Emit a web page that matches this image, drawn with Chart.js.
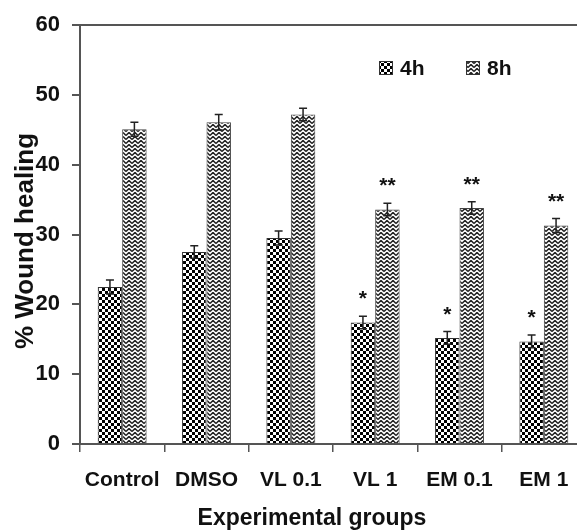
<!DOCTYPE html>
<html><head><meta charset="utf-8">
<script src="https://cdn.jsdelivr.net/npm/chart.js@4.4.1/dist/chart.umd.min.js"></script>
<style>html,body{margin:0;padding:0;overflow:hidden;background:#fff}#wrap{width:577px;height:531px;overflow:hidden;position:relative}canvas{display:block}</style>
</head><body><div id="wrap"><canvas id="c" width="586" height="531"></canvas></div>
<script>
const categories = ['Control', 'DMSO', 'VL 0.1', 'VL 1', 'EM 0.1', 'EM 1'];
const seriesNames = ['4h', '8h'];
const h4 = [22.5, 27.5, 29.5, 17.4, 15.2, 14.7];
const h4Err = [1.0, 0.9, 1.0, 0.9, 0.9, 0.9];
const h8 = [45.1, 46.1, 47.2, 33.6, 33.8, 31.3];
const h8Err = [1.0, 1.1, 0.9, 0.9, 0.9, 1.0];
const h4Sig = ['', '', '', '*', '*', '*'];
const h8Sig = ['', '', '', '**', '**', '**'];
const yTicks = [0, 10, 20, 30, 40, 50, 60];
const xTitle = 'Experimental groups';
const yTitle = '% Wound healing';

const FONT = "'Liberation Sans', Arial, sans-serif";

function checkerPattern() {
  const c = document.createElement('canvas'); c.width = 6; c.height = 6;
  const g = c.getContext('2d');
  g.fillStyle = '#fff'; g.fillRect(0, 0, 6, 6);
  g.fillStyle = '#000'; g.fillRect(0, 0, 3, 3); g.fillRect(3, 3, 3, 3);
  return g.createPattern(c, 'repeat');
}
function zigPattern() {
  const c = document.createElement('canvas'); c.width = 6; c.height = 4;
  const g = c.getContext('2d');
  g.fillStyle = '#fff'; g.fillRect(0, 0, 6, 4);
  g.strokeStyle = '#222'; g.lineWidth = 1.5;
  g.beginPath(); g.moveTo(0, 3.5); g.lineTo(3, 0.5); g.lineTo(6, 3.5); g.stroke();
  g.beginPath(); g.moveTo(-3, 0.5); g.lineTo(0, 3.5); g.stroke();
  g.beginPath(); g.moveTo(6, 3.5); g.lineTo(9, 0.5); g.stroke();
  return g.createPattern(c, 'repeat');
}
const pat4 = checkerPattern();
const pat8 = zigPattern();

const errs = [h4Err, h8Err];
const sigs = [h4Sig, h8Sig];

const errPlugin = {
  id: 'errbars',
  afterDatasetsDraw(chart) {
    const ctx = chart.ctx, ys = chart.scales.y;
    ctx.save();
    chart.data.datasets.forEach((ds, i) => {
      const meta = chart.getDatasetMeta(i);
      meta.data.forEach((el, j) => {
        const v = ds.data[j], e = errs[i][j];
        const yt = ys.getPixelForValue(v + e), yb = ys.getPixelForValue(v - e);
        const x = el.x;
        ctx.strokeStyle = '#222'; ctx.lineWidth = 1.5;
        ctx.beginPath();
        ctx.moveTo(x, yb); ctx.lineTo(x, yt);
        ctx.moveTo(x - 4, yt); ctx.lineTo(x + 4, yt);
        ctx.moveTo(x - 4, yb); ctx.lineTo(x + 4, yb);
        ctx.stroke();
        const s = sigs[i][j];
        if (s) {
          ctx.fillStyle = '#111';
          ctx.font = 'bold 21px ' + FONT;
          ctx.textAlign = 'center'; ctx.textBaseline = 'alphabetic';
          ctx.fillText(s, x, yt - 11);
        }
      });
    });
    ctx.restore();
  }
};

const legendPlugin = {
  id: 'customLegend',
  afterDraw(chart) {
    const ctx = chart.ctx;
    const items = [{x: 379, pat: pat4, text: seriesNames[0]}, {x: 466, pat: pat8, text: seriesNames[1]}];
    ctx.save();
    items.forEach(it => {
      ctx.fillStyle = it.pat; ctx.fillRect(it.x, 61, 14, 14);
      ctx.strokeStyle = '#333'; ctx.lineWidth = 1; ctx.strokeRect(it.x + 0.5, 61.5, 13, 13);
      ctx.fillStyle = '#111'; ctx.font = 'bold 21px ' + FONT;
      ctx.textAlign = 'left'; ctx.textBaseline = 'middle';
      ctx.fillText(it.text, it.x + 21, 69);
    });
    ctx.restore();
  }
};

const titlePlugin = {
  id: 'axisTitles',
  afterDraw(chart) {
    const ctx = chart.ctx;
    ctx.save();
    ctx.fillStyle = '#111';
    ctx.font = 'bold 23px ' + FONT;
    ctx.textAlign = 'center'; ctx.textBaseline = 'middle';
    ctx.fillText(xTitle, 312, 519);
    ctx.translate(26, 241); ctx.rotate(-Math.PI / 2);
    ctx.font = 'bold 26px ' + FONT;
    ctx.fillText(yTitle, 0, 0);
    ctx.restore();
  }
};

new Chart(document.getElementById('c'), {
  type: 'bar',
  data: {
    labels: categories,
    datasets: [
      {label: seriesNames[0], data: h4, backgroundColor: pat4, borderColor: '#333', borderWidth: 1, categoryPercentage: 0.58, barPercentage: 1},
      {label: seriesNames[1], data: h8, backgroundColor: pat8, borderColor: '#444', borderWidth: 1, categoryPercentage: 0.58, barPercentage: 1}
    ]
  },
  options: {
    responsive: false, animation: false, devicePixelRatio: 1,
    layout: {padding: {top: 24, right: 0, left: 0, bottom: 0}},
    plugins: {legend: {display: false}, tooltip: {enabled: false}},
    scales: {
      x: {
        grid: {offset: true, drawOnChartArea: false, tickLength: 8, color: '#555', lineWidth: 1.5},
        border: {color: '#555', width: 2},
        ticks: {font: {family: FONT, size: 21, weight: 'bold'}, color: '#111', padding: 16, maxRotation: 0, autoSkip: false},
        afterFit(s) { s.height = 87; }
      },
      y: {
        min: 0, max: 60,
        afterBuildTicks(s) { s.ticks = yTicks.map(v => ({value: v})); },
        ticks: {font: {family: FONT, size: 22, weight: 'bold'}, color: '#111', padding: 12},
        grid: {color: c => (c.tick && c.tick.value === 60) ? '#555' : 'rgba(0,0,0,0)', tickColor: '#555', tickLength: 8, lineWidth: 2},
        border: {color: '#555', width: 2},
        afterFit(s) { s.width = 80; }
      }
    }
  },
  plugins: [errPlugin, legendPlugin, titlePlugin]
});
</script>
</body></html>
